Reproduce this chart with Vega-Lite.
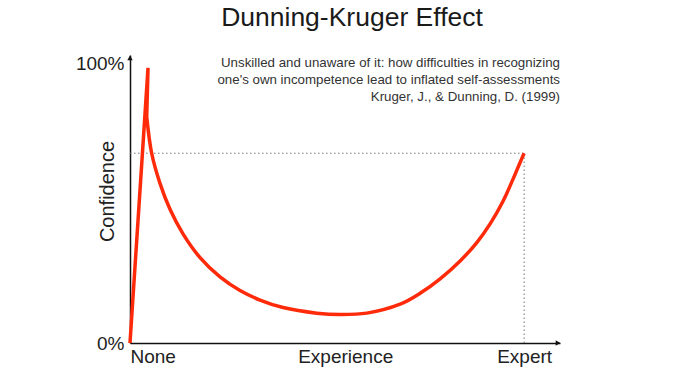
{
  "$schema": "https://vega.github.io/schema/vega-lite/v6.json",
  "width": 430,
  "height": 288,
  "autosize": {"type": "none"},
  "padding": {"left": 130, "top": 55, "right": 140, "bottom": 33},
  "background": "white",
  "config": {
    "view": {"stroke": null},
    "font": "Liberation Sans"
  },
  "title": {
    "text": "Dunning-Kruger Effect",
    "fontSize": 26.5,
    "fontWeight": "normal",
    "color": "#1a1a1a",
    "anchor": "middle",
    "baseline": "alphabetic",
    "offset": 2,
    "dx": 7
  },
  "datasets": {
    "rise": [
      {"x": 0, "y": 0, "o": 1},
      {"x": 0.0457, "y": 0.986, "o": 2},
      {"x": 0.0424, "y": 0.81, "o": 3}
    ],
    "curve": [
      {"x": 0.0424, "y": 0.81, "o": 1},
      {"x": 0.0551, "y": 0.679, "o": 2},
      {"x": 0.0761, "y": 0.572, "o": 3},
      {"x": 0.1015, "y": 0.479, "o": 4},
      {"x": 0.1345, "y": 0.391, "o": 5},
      {"x": 0.1777, "y": 0.306, "o": 6},
      {"x": 0.2284, "y": 0.237, "o": 7},
      {"x": 0.2792, "y": 0.188, "o": 8},
      {"x": 0.3299, "y": 0.154, "o": 9},
      {"x": 0.3883, "y": 0.127, "o": 10},
      {"x": 0.4739, "y": 0.107, "o": 11},
      {"x": 0.533, "y": 0.102, "o": 12},
      {"x": 0.6008, "y": 0.107, "o": 13},
      {"x": 0.6853, "y": 0.139, "o": 14},
      {"x": 0.736, "y": 0.178, "o": 15},
      {"x": 0.7868, "y": 0.23, "o": 16},
      {"x": 0.8376, "y": 0.294, "o": 17},
      {"x": 0.8799, "y": 0.36, "o": 18},
      {"x": 0.9137, "y": 0.427, "o": 19},
      {"x": 0.9467, "y": 0.509, "o": 20},
      {"x": 0.9721, "y": 0.588, "o": 21},
      {"x": 0.9898, "y": 0.647, "o": 22},
      {"x": 1.0, "y": 0.68, "o": 23}
    ],
    "guides": [
      {"x": 0, "x2": 1, "y": 0.68, "y2": 0.68},
      {"x": 1, "x2": 1, "y": 0, "y2": 0.68}
    ],
    "arrows": [
      {"x": 1.086, "y": 0, "shape": "triangle-right"},
      {"x": 0, "y": 1.022, "shape": "triangle-up"}
    ],
    "notes": [
      {"x": 1.091, "y": 1.004, "text": "Unskilled and unaware of it: how difficulties in recognizing"},
      {"x": 1.091, "y": 0.943, "text": "one's own incompetence lead to inflated self-assessments"},
      {"x": 1.091, "y": 0.882, "text": "Kruger, J., & Dunning, D. (1999)"}
    ]
  },
  "encoding": {
    "x": {
      "field": "x",
      "type": "quantitative",
      "scale": {"domain": [0, 1.091], "nice": false, "zero": false},
      "axis": {
        "title": null,
        "values": [0, 0.546, 1],
        "labelExpr": "datum.value == 0 ? 'None' : (datum.value == 1 ? 'Expert' : 'Experience')",
        "grid": false,
        "ticks": false,
        "domainColor": "#111",
        "domainWidth": 1.5,
        "labelFontSize": 19,
        "labelColor": "#222",
        "labelPadding": 4,
        "labelFlush": true
      }
    },
    "y": {
      "field": "y",
      "type": "quantitative",
      "scale": {"domain": [0, 1.032], "nice": false, "zero": false},
      "axis": {
        "title": "Confidence",
        "titleFontSize": 20,
        "titleFontWeight": "normal",
        "titleColor": "#222",
        "titleBaseline": "alphabetic",
        "titleX": -17,
        "titleY": 136,
        "values": [0, 1],
        "format": ".0%",
        "grid": false,
        "ticks": false,
        "labelFlush": false,
        "domainColor": "#111",
        "domainWidth": 1.5,
        "labelFontSize": 19,
        "labelColor": "#222",
        "labelPadding": 6
      }
    }
  },
  "layer": [
    {
      "data": {"name": "guides"},
      "mark": {"type": "rule", "color": "#777", "strokeWidth": 1, "strokeDash": [1.5, 2.5]},
      "encoding": {
        "x2": {"field": "x2"},
        "y2": {"field": "y2"}
      }
    },
    {
      "data": {"name": "rise"},
      "mark": {"type": "line", "color": "#ff2a0a", "strokeWidth": 3.5, "strokeJoin": "miter", "strokeCap": "butt"},
      "encoding": {
        "order": {"field": "o", "type": "quantitative"}
      }
    },
    {
      "data": {"name": "curve"},
      "mark": {"type": "line", "color": "#ff2a0a", "strokeWidth": 3.5, "interpolate": "catmull-rom"},
      "encoding": {
        "order": {"field": "o", "type": "quantitative"}
      }
    },
    {
      "data": {"name": "arrows"},
      "mark": {"type": "point", "filled": true, "color": "#111", "size": 30, "opacity": 1},
      "encoding": {
        "shape": {"field": "shape", "type": "nominal", "scale": null, "legend": null}
      }
    },
    {
      "data": {"name": "notes"},
      "mark": {"type": "text", "align": "right", "baseline": "middle", "fontSize": 13.3, "color": "#333"},
      "encoding": {
        "text": {"field": "text", "type": "nominal"}
      }
    }
  ]
}
